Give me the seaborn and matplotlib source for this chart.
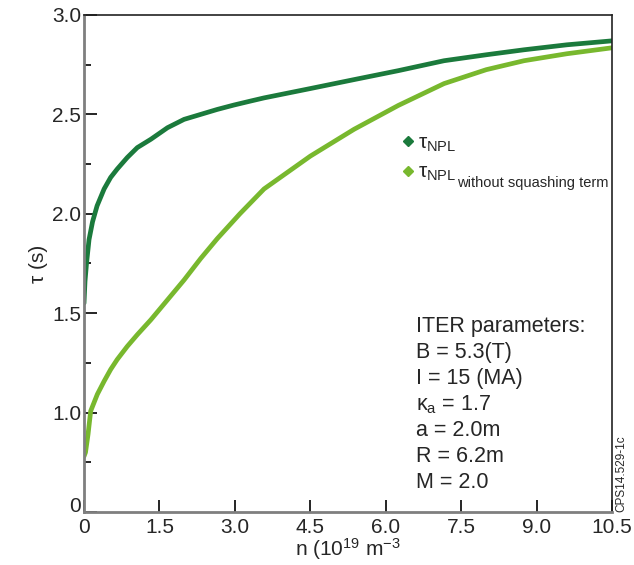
import matplotlib
matplotlib.use("Agg")
import matplotlib.pyplot as plt
from matplotlib.lines import Line2D
from matplotlib.ticker import FixedLocator
import seaborn as sns
import pandas as pd

# curve values
n_npl = [0, 0.02, 0.05, 0.1, 0.17, 0.26, 0.4, 0.53, 0.66, 0.86, 1.06, 1.33, 1.66, 1.99,
         2.32, 2.65, 2.98, 3.31, 3.58, 4.5, 5.37, 6.25, 7.16, 8.0, 8.75, 9.6, 10.5]
tau_npl = [1.55, 1.66, 1.75, 1.87, 1.96, 2.04, 2.125, 2.183, 2.225, 2.283, 2.333, 2.375,
           2.433, 2.475, 2.5, 2.525, 2.547, 2.567, 2.583, 2.63, 2.675, 2.72, 2.77, 2.80,
           2.825, 2.85, 2.87]

n_nosq = [0, 0.03, 0.08, 0.133, 0.265, 0.4, 0.53, 0.66, 0.86, 1.06, 1.33, 1.66, 1.99,
          2.32, 2.65, 3.1, 3.58, 4.5, 5.37, 6.25, 7.16, 8.0, 8.75, 9.6, 10.5]
tau_nosq = [0.78, 0.8, 0.89, 1.008, 1.092, 1.158, 1.217, 1.267, 1.333, 1.392, 1.467,
            1.567, 1.667, 1.775, 1.875, 2.0, 2.125, 2.29, 2.425, 2.545, 2.655, 2.725,
            2.77, 2.805, 2.835]

ytick_vals = [0.5, 1.0, 1.5, 2.0, 2.5, 3.0]
ytick_labels = ["0", "1.0", "1.5", "2.0", "2.5", "3.0"]
yminor_vals = [0.75, 1.25, 1.75, 2.25, 2.75]
xtick_vals = [0, 1.5, 3.0, 4.5, 6.0, 7.5, 9.0, 10.5]
xtick_labels = ["0", "1.5", "3.0", "4.5", "6.0", "7.5", "9.0", "10.5"]

iter_lines = ["ITER parameters:", "B = 5.3(T)", "I = 15 (MA)", r"κ$_\mathrm{a}$ = 1.7",
              "a = 2.0m", "R = 6.2m", "M = 2.0"]

dark_green = "#1b7a3c"
light_green = "#78b82e"

sns.set_style("white")
plt.rcParams['font.family'] = ['Liberation Sans', 'DejaVu Sans']
plt.rcParams['mathtext.fontset'] = 'custom'
plt.rcParams['mathtext.rm'] = 'Liberation Sans'
plt.rcParams['mathtext.it'] = 'Liberation Sans:italic'

fig = plt.figure(figsize=(6.34, 5.65), dpi=100)
ax = fig.add_axes([84 / 634, 53 / 565, 528 / 634, 497 / 565])

df1 = pd.DataFrame({"n": n_npl, "tau": tau_npl})
df2 = pd.DataFrame({"n": n_nosq, "tau": tau_nosq})
sns.lineplot(data=df2, x="n", y="tau", ax=ax, color=light_green, lw=3.4, sort=False,
             solid_joinstyle="round", solid_capstyle="round")
sns.lineplot(data=df1, x="n", y="tau", ax=ax, color=dark_green, lw=3.4, sort=False,
             solid_joinstyle="round", solid_capstyle="round")

ax.set_xlim(0, 10.5)
ax.set_ylim(0.5, 3.0)

ax.xaxis.set_major_locator(FixedLocator(xtick_vals))
ax.set_xticklabels(xtick_labels)
ax.yaxis.set_major_locator(FixedLocator(ytick_vals))
ax.set_yticklabels(ytick_labels)
ax.yaxis.set_minor_locator(FixedLocator(yminor_vals))
ax.tick_params(axis="both", which="major", direction="in", length=9, width=1.2,
               labelsize=15, color="black", pad=2, left=True, bottom=True)
ax.tick_params(axis="x", which="major", pad=4)
ax.tick_params(axis="y", which="minor", direction="in", length=5, width=1.2,
               color="black", left=True)
# the bottom "0" sits a little above the axis corner
ax.get_yticklabels()[0].set_verticalalignment("baseline")

for side in ["left", "bottom"]:
    ax.spines[side].set_color("#7f7f7f")
    ax.spines[side].set_linewidth(2)
for side in ["top", "right"]:
    ax.spines[side].set_color("#222222")
    ax.spines[side].set_linewidth(1.2)

ax.set_xlabel(r"n (10$^{19}$ m$^{-3}$", fontsize=15, labelpad=0)
ax.set_ylabel("τ (s)", fontsize=15, labelpad=3)

handles = [
    Line2D([], [], ls="none", marker="D", ms=5.5, color=dark_green),
    Line2D([], [], ls="none", marker="D", ms=5.5, color=light_green),
]
labels = [r"τ$_\mathrm{NPL}$", r"τ$_\mathrm{NPL}$"]
ax.legend(handles, labels, loc="upper left", bbox_to_anchor=(0.594, 0.761),
          frameon=False, fontsize=15, handletextpad=0.0, handlelength=1.0,
          labelspacing=0.42, borderaxespad=0, borderpad=0)
ax.text(0.706, 0.662, "without squashing term", transform=ax.transAxes,
        fontsize=10.5, va="center", ha="left")

for i, line in enumerate(iter_lines):
    ax.text(0.629, 0.374 - i * 0.0525, line, transform=ax.transAxes,
            fontsize=15.5, va="center", ha="left")

fig.text(621 / 634, 1 - 474 / 565, "CPS14.529-1c", rotation=90, fontsize=8.5,
         ha="center", va="center")

fig.savefig("out.png", dpi=100)
